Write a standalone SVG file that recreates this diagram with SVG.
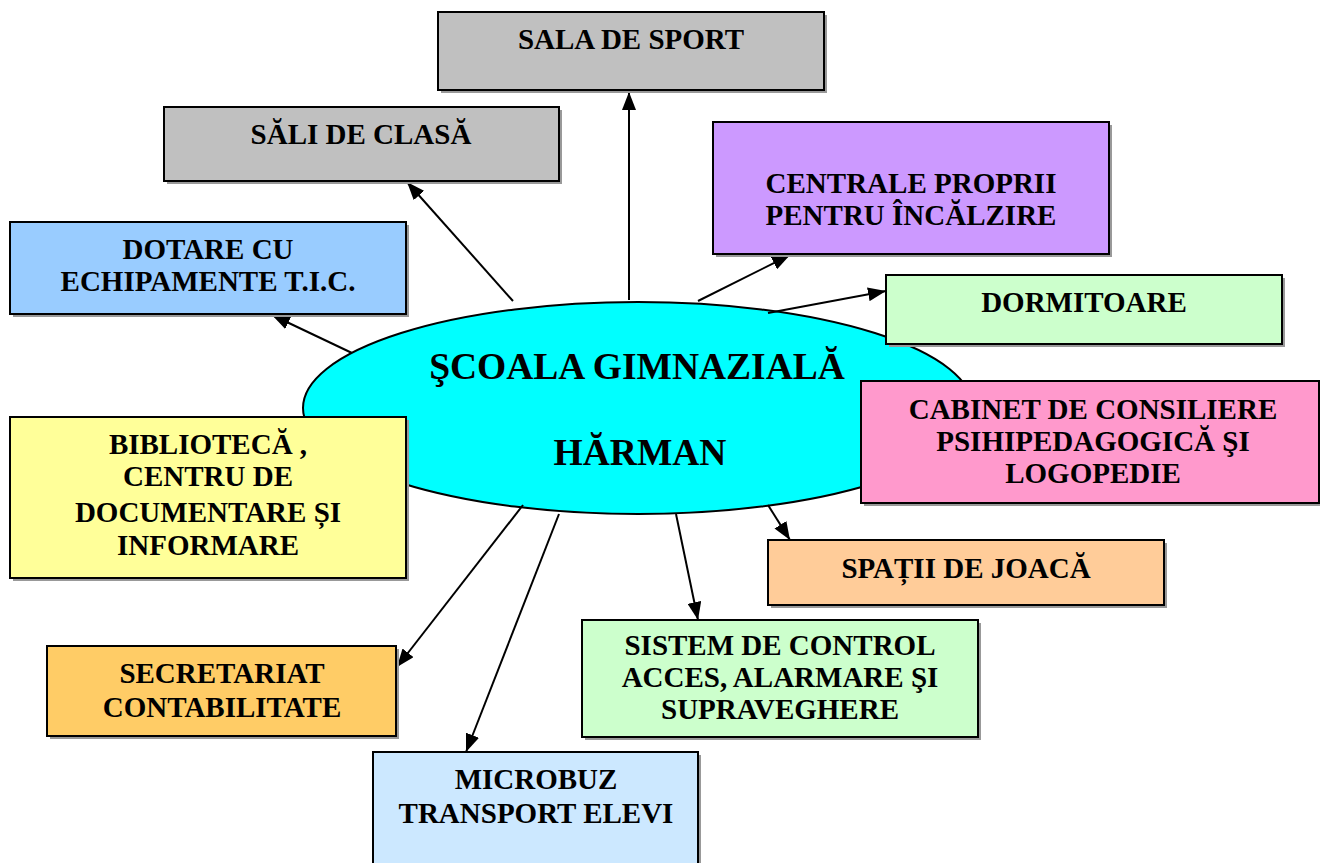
<svg xmlns="http://www.w3.org/2000/svg" width="1320" height="863" viewBox="0 0 1320 863">
<defs>
<style>
.box{stroke:#000;stroke-width:2}
.sh{fill:#999}
.t{font-family:"Liberation Serif","Times New Roman",serif;font-weight:bold;font-size:29px;text-anchor:middle;fill:#000}
.tc{font-family:"Liberation Serif","Times New Roman",serif;font-weight:bold;font-size:37.5px;text-anchor:middle;fill:#000}
.c{stroke:#000;stroke-width:2;fill:none;marker-end:url(#ah)}
</style>
<marker id="ah" viewBox="0 0 18 14" refX="18" refY="7" markerWidth="18" markerHeight="14" markerUnits="userSpaceOnUse" orient="auto">
<path d="M0,0 L18,7 L0,14 Z" fill="#000"/>
</marker>
</defs>
<rect width="1320" height="863" fill="#fff"/>
<g id="center">
<ellipse cx="638" cy="408" rx="335" ry="106" fill="#00ffff" stroke="#000" stroke-width="2"/>
<text class="tc" x="637" y="379">ŞCOALA GIMNAZIALĂ</text>
<text class="tc" x="640" y="465">HĂRMAN</text>
</g>
<g id="connectors">
<line class="c" x1="629" y1="300" x2="629" y2="92"/>
<line class="c" x1="513" y1="301" x2="407" y2="182"/>
<line class="c" x1="352" y1="353" x2="272" y2="315"/>
<line class="c" x1="698" y1="301" x2="790" y2="255"/>
<line class="c" x1="768" y1="313" x2="886" y2="291"/>
<line class="c" x1="768" y1="505" x2="790" y2="540"/>
<line class="c" x1="676" y1="514" x2="698" y2="620"/>
<line class="c" x1="523" y1="505" x2="397" y2="667"/>
<line class="c" x1="559" y1="514" x2="466" y2="752"/>
</g>
<g id="sala-sport">
<rect class="sh" x="441" y="15" width="386" height="78"/>
<rect class="box" x="438" y="12" width="386" height="78" fill="#c0c0c0"/>
<text class="t" x="631" y="49">SALA DE SPORT</text>
</g>
<g id="sali-clasa">
<rect class="sh" x="167" y="110" width="395" height="74"/>
<rect class="box" x="164" y="107" width="395" height="74" fill="#c0c0c0"/>
<text class="t" x="361" y="144">SĂLI DE CLASĂ</text>
</g>
<g id="centrale">
<rect class="sh" x="716" y="125" width="396" height="132"/>
<rect class="box" x="713" y="122" width="396" height="132" fill="#cc99ff"/>
<text class="t" x="911" y="193">CENTRALE PROPRII</text>
<text class="t" x="911" y="225">PENTRU ÎNCĂLZIRE</text>
</g>
<g id="dotare">
<rect class="sh" x="13" y="225" width="396" height="92"/>
<rect class="box" x="10" y="222" width="396" height="92" fill="#99ccff"/>
<text class="t" x="208" y="259">DOTARE CU</text>
<text class="t" x="208" y="291">ECHIPAMENTE T.I.C.</text>
</g>
<g id="dormitoare">
<rect class="sh" x="889" y="278" width="396" height="69"/>
<rect class="box" x="886" y="275" width="396" height="69" fill="#ccffcc"/>
<text class="t" x="1084" y="312">DORMITOARE</text>
</g>
<g id="cabinet">
<rect class="sh" x="864" y="384" width="458" height="122"/>
<rect class="box" x="861" y="381" width="458" height="122" fill="#ff99cc"/>
<text class="t" x="1093" y="419">CABINET DE CONSILIERE</text>
<text class="t" x="1093" y="451">PSIHIPEDAGOGICĂ ŞI</text>
<text class="t" x="1093" y="483">LOGOPEDIE</text>
</g>
<g id="biblioteca">
<rect class="sh" x="13" y="420" width="396" height="161"/>
<rect class="box" x="10" y="417" width="396" height="161" fill="#ffff99"/>
<text class="t" x="208" y="454">BIBLIOTECĂ ,</text>
<text class="t" x="208" y="486">CENTRU DE</text>
<text class="t" x="208" y="522">DOCUMENTARE ȘI</text>
<text class="t" x="208" y="555">INFORMARE</text>
</g>
<g id="spatii-joaca">
<rect class="sh" x="771" y="543" width="396" height="65"/>
<rect class="box" x="768" y="540" width="396" height="65" fill="#ffcc99"/>
<text class="t" x="966" y="578">SPAȚII DE JOACĂ</text>
</g>
<g id="sistem-control">
<rect class="sh" x="585" y="623" width="396" height="117"/>
<rect class="box" x="582" y="620" width="396" height="117" fill="#ccffcc"/>
<text class="t" x="780" y="655">SISTEM DE CONTROL</text>
<text class="t" x="780" y="687">ACCES, ALARMARE ŞI</text>
<text class="t" x="780" y="719">SUPRAVEGHERE</text>
</g>
<g id="secretariat">
<rect class="sh" x="50" y="649" width="349" height="90"/>
<rect class="box" x="47" y="646" width="349" height="90" fill="#ffcc66"/>
<text class="t" x="222" y="683">SECRETARIAT</text>
<text class="t" x="222" y="717">CONTABILITATE</text>
</g>
<g id="microbuz">
<rect class="sh" x="376" y="755" width="325" height="120"/>
<rect class="box" x="373" y="752" width="325" height="120" fill="#cce8ff"/>
<text class="t" x="536" y="789">MICROBUZ</text>
<text class="t" x="536" y="823">TRANSPORT ELEVI</text>
</g>
</svg>
